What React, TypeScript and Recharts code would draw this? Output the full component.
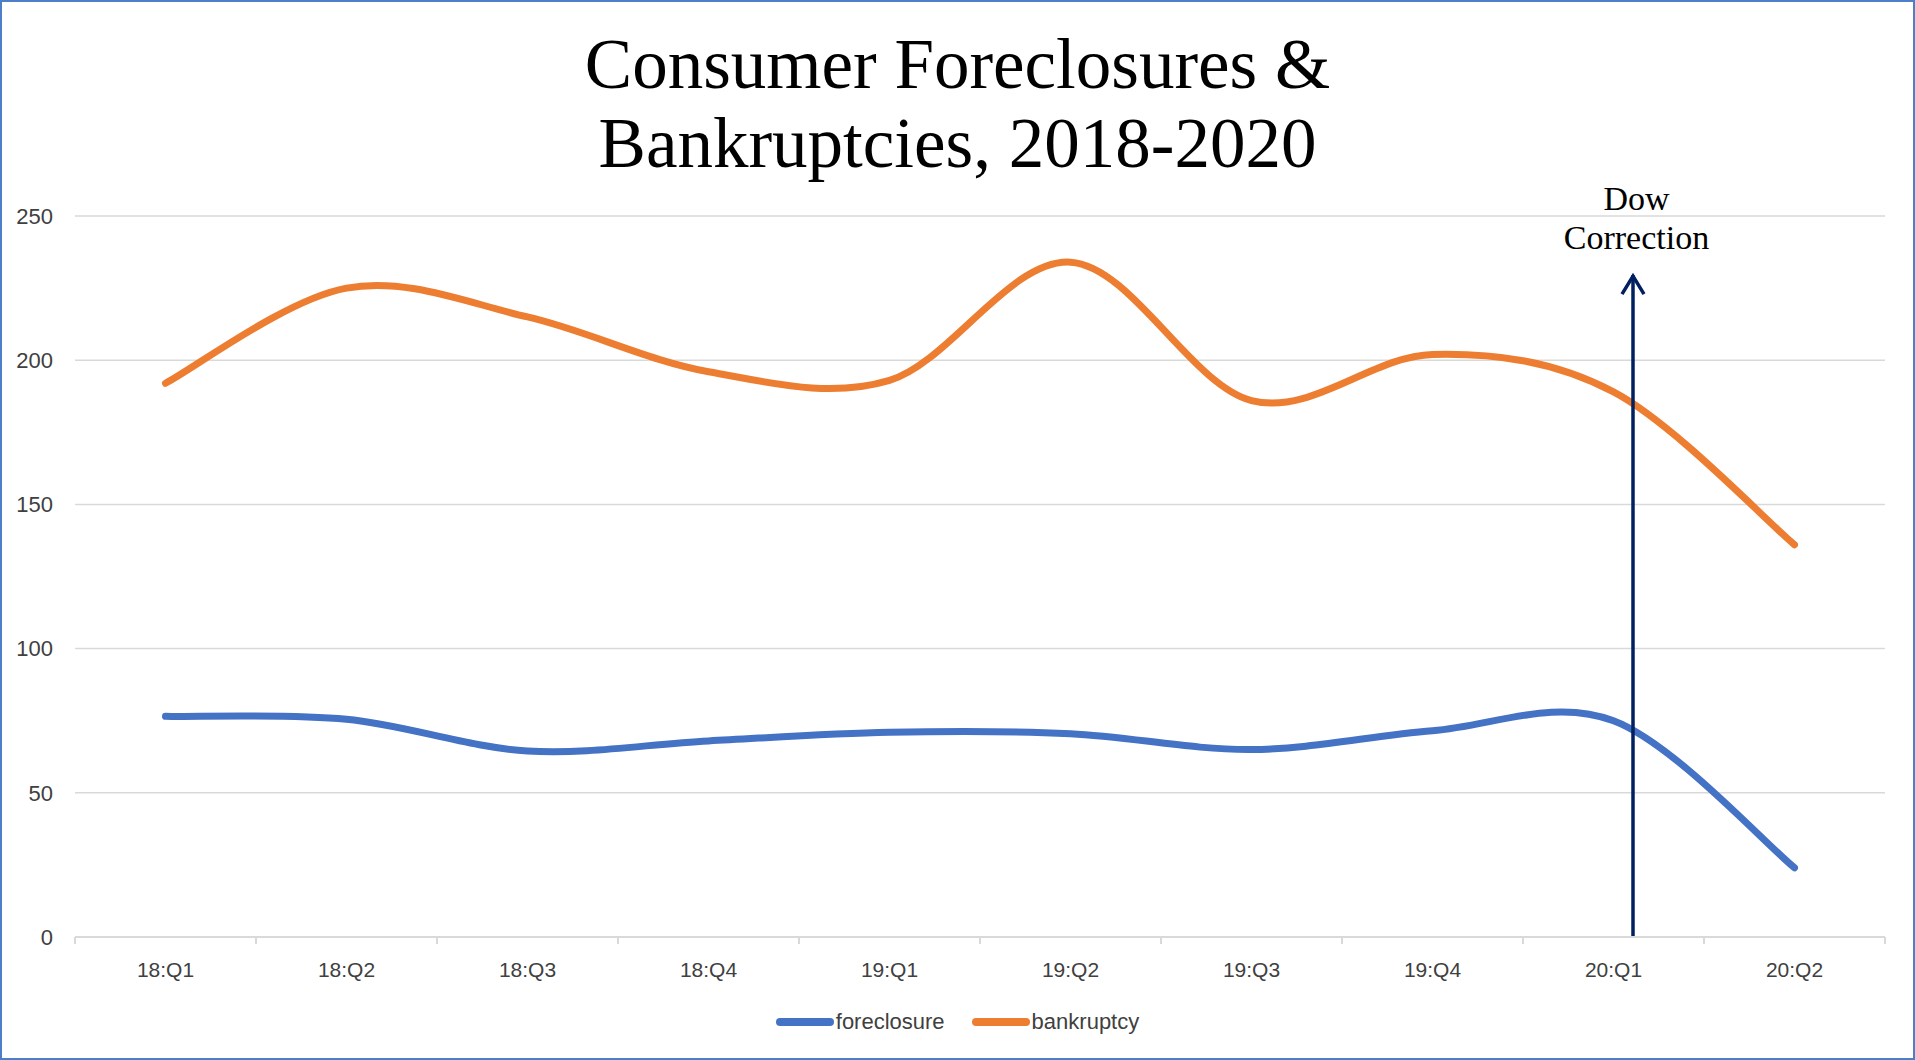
import { LineChart, Line, XAxis, YAxis, CartesianGrid, Legend, ReferenceLine } from "recharts"

const quarters = ["18:Q1", "18:Q2", "18:Q3", "18:Q4", "19:Q1", "19:Q2", "19:Q3", "19:Q4", "20:Q1", "20:Q2"]
const foreclosure = [76.5, 75.5, 64.5, 68, 71, 70.5, 65, 71.5, 75, 24]
const bankruptcy = [192, 225, 215, 196, 193, 234, 186, 202, 189, 136]
const yTicks = [0, 50, 100, 150, 200, 250]
const seriesOrder = ["foreclosure", "bankruptcy"]

// Dow correction marker: just after the 20:Q1 point, arrow tip in value units
const DOW_QUARTER = "20:Q1"
const DOW_TOP = 229.5
const DOW_SHIFT = 19.5

const data = quarters.map((q, i) => ({ q, foreclosure: foreclosure[i], bankruptcy: bankruptcy[i] }))

const SANS = "'Liberation Sans', Arial, sans-serif"
const SERIF = "'Liberation Serif', 'Times New Roman', serif"
const TICK_GAP = 25

// Excel-style smoothed line (Catmull-Rom through every point)
function excelSmooth(context: any) {
  let pts: number[][] = []
  return {
    areaStart() {},
    areaEnd() {},
    lineStart() { pts = [] },
    lineEnd() {
      if (!pts.length) return
      context.moveTo(pts[0][0], pts[0][1])
      for (let i = 0; i < pts.length - 1; i++) {
        const p0 = pts[i - 1] || pts[i]
        const p1 = pts[i]
        const p2 = pts[i + 1]
        const p3 = pts[i + 2] || p2
        context.bezierCurveTo(
          p1[0] + (p2[0] - p0[0]) / 6, p1[1] + (p2[1] - p0[1]) / 6,
          p2[0] - (p3[0] - p1[0]) / 6, p2[1] - (p3[1] - p1[1]) / 6,
          p2[0], p2[1]
        )
      }
    },
    point(x: number, y: number) { pts.push([+x, +y]) },
  }
}

// category label plus Excel-like tick marks on the band edges
function QuarterTick(props: any) {
  const { x, y, payload, index } = props
  const half = payload?.offset || 0
  const axisY = y - TICK_GAP
  const edges = index === quarters.length - 1 ? [x - half, x + half] : [x - half]
  return (
    <g>
      {edges.map(ex => (
        <line key={ex} x1={ex} y1={axisY} x2={ex} y2={axisY + 7} stroke="#D9D9D9" strokeWidth={2} />
      ))}
      <text x={x} y={y} dy="0.71em" textAnchor="middle" fontFamily={SANS} fontSize={21} fill="#404040">{payload.value}</text>
    </g>
  )
}

function DowArrow(props: any) {
  const { x1, y1, y2 } = props
  const x = x1 + DOW_SHIFT
  const top = Math.min(y1, y2)
  const bottom = Math.max(y1, y2)
  return (
    <g>
      <line x1={x} y1={bottom} x2={x} y2={top} stroke="#002060" strokeWidth={3.5} />
      <polyline points={`${x - 11},${top + 19} ${x},${top + 1} ${x + 11},${top + 19}`} fill="none" stroke="#002060" strokeWidth={3.5} />
      <text x={x + 3.5} y={top - 65} textAnchor="middle" fontFamily={SERIF} fontSize={34} fill="#000">Dow</text>
      <text x={x + 3.5} y={top - 26} textAnchor="middle" fontFamily={SERIF} fontSize={34} fill="#000">Correction</text>
    </g>
  )
}

function renderLegend(props: any) {
  const payload = [...(props.payload || [])].sort(
    (a: any, b: any) => seriesOrder.indexOf(a.value) - seriesOrder.indexOf(b.value)
  )
  return (
    <div style={{ height: 30, display: "flex", justifyContent: "center", alignItems: "center", gap: 27 }}>
      {payload.map((p: any) => (
        <div key={p.value} style={{ display: "flex", alignItems: "center" }}>
          <span style={{ width: 58, height: 8, borderRadius: 4, background: p.color, marginRight: 2 }} />
          <span style={{ fontFamily: SANS, fontSize: 22, color: "#404040" }}>{p.value}</span>
        </div>
      ))}
    </div>
  )
}

export default function App() {
  return (
    <div style={{ position: "absolute", left: 0, top: 0, width: 1915, height: 1060, background: "#fff" }}>
      <div style={{ position: "absolute", left: 0, top: 25, width: 1915, textAlign: "center", fontFamily: SERIF, fontSize: 71, lineHeight: "79px", color: "#000" }}>
        <div>Consumer Foreclosures &amp;</div>
        <div>Bankruptcies, 2018-2020</div>
      </div>
      <div style={{ position: "absolute", left: 0, top: 0 }}>
        <LineChart width={1915} height={1060} data={data} margin={{ top: 216, right: 30, left: 0, bottom: 92 }}>
          <CartesianGrid vertical={false} stroke="#D9D9D9" strokeWidth={1.5} />
          <XAxis dataKey="q" scale="band" height={1} axisLine={{ stroke: "#D9D9D9", strokeWidth: 2 }} tickLine={false}
            tickSize={0} tickMargin={TICK_GAP} interval={0} tick={<QuarterTick />} />
          <YAxis domain={[0, 250]} ticks={yTicks} width={75} axisLine={false} tickLine={false} tickSize={0} tickMargin={22}
            tick={{ fontFamily: SANS, fontSize: 22, fill: "#404040" }} />
          <Line dataKey="foreclosure" name="foreclosure" type={excelSmooth as any} stroke="#4472C4" strokeWidth={7} strokeLinecap="round" dot={false} activeDot={false} isAnimationActive={false} />
          <Line dataKey="bankruptcy" name="bankruptcy" type={excelSmooth as any} stroke="#ED7D31" strokeWidth={7} strokeLinecap="round" dot={false} activeDot={false} isAnimationActive={false} />
          <ReferenceLine segment={[{ x: DOW_QUARTER, y: 0 }, { x: DOW_QUARTER, y: DOW_TOP }]} shape={DowArrow} ifOverflow="visible" />
          <Legend verticalAlign="bottom" content={renderLegend} wrapperStyle={{ left: 0, width: 1915, bottom: 23 }} />
        </LineChart>
      </div>
      <div style={{ position: "absolute", left: 0, top: 0, width: 1915, height: 1060, boxSizing: "border-box", border: "2px solid #4F7EC9", pointerEvents: "none" }} />
    </div>
  )
}
